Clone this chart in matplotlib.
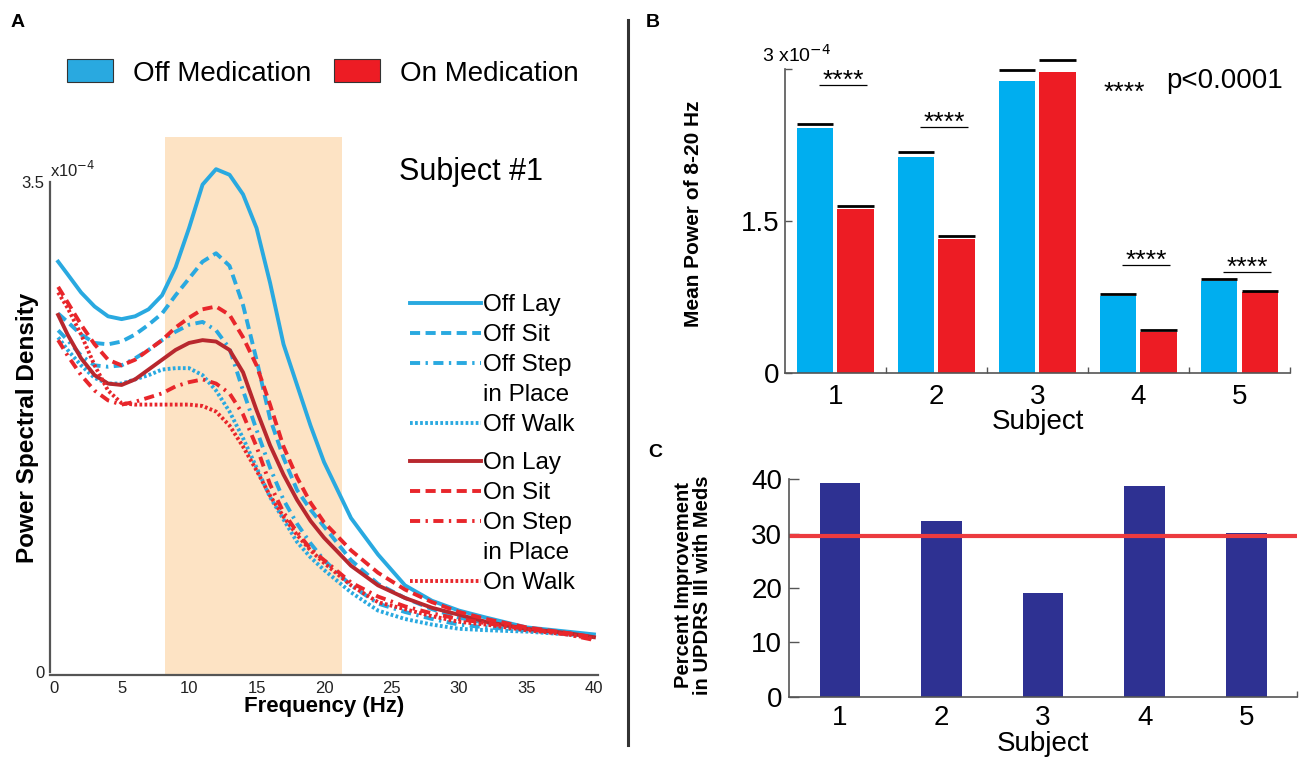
import matplotlib
matplotlib.use("Agg")
import matplotlib.pyplot as plt
from matplotlib.lines import Line2D
from matplotlib.patches import Patch

plt.rcParams['font.family'] = ['Liberation Sans', 'DejaVu Sans']

# ---- panel A: power spectral density, subject #1 (x1e-4) ----
freq = [0.3, 1, 2, 3, 4, 5, 6, 7, 8, 9, 10, 11, 12, 13, 14, 15, 16, 17, 18, 19, 20,
        22, 24, 26, 28, 30, 32, 35, 38, 40]
off_lay = [2.93, 2.84, 2.71, 2.61, 2.54, 2.52, 2.54, 2.59, 2.69, 2.89, 3.17, 3.48, 3.59, 3.55,
           3.41, 3.17, 2.78, 2.34, 2.05, 1.76, 1.50, 1.10, 0.84, 0.62, 0.51, 0.44, 0.39, 0.32,
           0.29, 0.27]
off_sit = [2.56, 2.50, 2.41, 2.35, 2.34, 2.36, 2.41, 2.48, 2.56, 2.69, 2.81, 2.93, 2.99, 2.90,
           2.62, 2.23, 1.81, 1.53, 1.30, 1.16, 1.04, 0.80, 0.63, 0.53, 0.45, 0.39, 0.35, 0.31,
           0.28, 0.26]
off_step = [2.44, 2.37, 2.26, 2.19, 2.18, 2.19, 2.24, 2.30, 2.37, 2.43, 2.48, 2.50, 2.44, 2.31,
            2.01, 1.73, 1.46, 1.23, 1.06, 0.92, 0.80, 0.62, 0.49, 0.43, 0.38, 0.34, 0.32, 0.30,
            0.28, 0.26]
off_walk = [2.39, 2.30, 2.19, 2.10, 2.06, 2.06, 2.09, 2.12, 2.16, 2.17, 2.17, 2.12, 2.01, 1.86,
            1.67, 1.46, 1.25, 1.09, 0.93, 0.82, 0.73, 0.57, 0.44, 0.38, 0.34, 0.31, 0.30, 0.29,
            0.27, 0.26]
on_lay = [2.55, 2.41, 2.24, 2.12, 2.06, 2.05, 2.09, 2.16, 2.23, 2.30, 2.35, 2.37, 2.36, 2.30,
          2.14, 1.87, 1.62, 1.41, 1.23, 1.08, 0.96, 0.76, 0.62, 0.53, 0.46, 0.41, 0.36, 0.31,
          0.28, 0.25]
on_sit = [2.75, 2.64, 2.48, 2.34, 2.23, 2.19, 2.23, 2.30, 2.37, 2.46, 2.53, 2.59, 2.61, 2.55,
          2.39, 2.19, 1.91, 1.61, 1.39, 1.21, 1.07, 0.87, 0.71, 0.59, 0.50, 0.43, 0.38, 0.32,
          0.28, 0.25]
on_step = [2.37, 2.26, 2.12, 2.01, 1.94, 1.91, 1.93, 1.96, 1.99, 2.04, 2.07, 2.09, 2.06, 1.99,
           1.84, 1.61, 1.34, 1.14, 1.00, 0.88, 0.80, 0.64, 0.54, 0.47, 0.42, 0.38, 0.35, 0.31,
           0.27, 0.23]
on_walk = [2.71, 2.60, 2.41, 2.19, 2.01, 1.92, 1.91, 1.91, 1.91, 1.91, 1.91, 1.90, 1.86, 1.76,
           1.61, 1.44, 1.26, 1.11, 0.98, 0.87, 0.78, 0.62, 0.50, 0.45, 0.40, 0.36, 0.34, 0.30,
           0.27, 0.24]
band = [8.2, 21.3]

# ---- panel B: mean power 8-20 Hz (x1e-4) ----
subjects = [1, 2, 3, 4, 5]
off_mean = [2.42, 2.13, 2.88, 0.76, 0.91]
on_mean = [1.62, 1.32, 2.97, 0.41, 0.80]
off_err = [0.04, 0.05, 0.11, 0.02, 0.02]
on_err = [0.03, 0.03, 0.12, 0.01, 0.01]
sig_level = [2.85, 2.43, None, 1.07, 1.00]

# ---- panel C: UPDRS III improvement ----
updrs = [39.3, 32.3, 19.1, 38.7, 30.1]
updrs_ref = 29.5

BLUE = '#29a9e0'
RED = '#e8262b'
DARKRED = '#b8282e'
BAR_BLUE = '#00aeef'
BAR_RED = '#ed1c24'
NAVY = '#2e3192'
AX = '#555555'

fig = plt.figure(figsize=(13, 7.6), dpi=100)

# ================= A =================
axA = fig.add_axes([0.0385, 0.1118, 0.4215, 0.708])
axA.axvspan(band[0], band[1], color='#fde3c4', lw=0, zorder=0)

dash = (0, (2.6, 1.4))
dashdot = (0, (2.6, 1.4, 0.6, 1.4))
dot = (0, (0.7, 0.6))
curves = [
    (off_lay, BLUE, '-', 'Off Lay'),
    (off_sit, BLUE, dash, 'Off Sit'),
    (off_step, BLUE, dashdot, 'Off Step'),
    (off_walk, BLUE, dot, 'Off Walk'),
    (on_lay, DARKRED, '-', 'On Lay'),
    (on_sit, RED, dash, 'On Sit'),
    (on_step, RED, dashdot, 'On Step'),
    (on_walk, RED, dot, 'On Walk'),
]
handles = []
for vals, col, ls, lab in curves:
    h, = axA.plot(freq, vals, color=col, ls=ls, lw=2.8, label=lab)
    handles.append(h)

axA.set_xlim(-0.3, 40.3)
axA.set_ylim(-0.02, 3.82)
axA.set_xticks(range(0, 41, 5))
axA.set_yticks([0, 3.5])
axA.set_yticklabels(['0', '3.5'])
axA.tick_params(length=0, labelsize=12, pad=4, colors='#222222')
for s in ['top', 'right']:
    axA.spines[s].set_visible(False)
for s in ['left', 'bottom']:
    axA.spines[s].set_color(AX)
    axA.spines[s].set_linewidth(1.6)
axA.spines['left'].set_bounds(0, 3.5)
axA.set_xlabel('Frequency (Hz)', fontsize=16, fontweight='bold', labelpad=0)
axA.set_ylabel('Power Spectral Density', fontsize=17.5, fontweight='bold')
axA.yaxis.set_label_coords(-0.02, 0.46)
axA.text(0.0, 0.939, 'x10$^{-4}$', transform=axA.transAxes, fontsize=12,
         ha='left', va='center', color='#222222')
axA.text(0.768, 0.935, 'Subject #1', transform=axA.transAxes, fontsize=22,
         ha='center', va='center')

blank = Line2D([], [], color='none')
off_h = [handles[0], handles[1], handles[2], blank, handles[3]]
off_l = ['Off Lay', 'Off Sit', 'Off Step', 'in Place', 'Off Walk']
on_h = [handles[4], handles[5], handles[6], blank, handles[7]]
on_l = ['On Lay', 'On Sit', 'On Step', 'in Place', 'On Walk']
leg_kw = dict(loc='upper left', bbox_transform=fig.transFigure, frameon=False,
              fontsize=17.5, handlelength=2.9, handletextpad=0.12, labelspacing=0.33,
              borderpad=0, borderaxespad=0)
legA1 = axA.legend(off_h, off_l, bbox_to_anchor=(0.3154, 0.613), **leg_kw)
axA.add_artist(legA1)
axA.legend(on_h, on_l, bbox_to_anchor=(0.3154, 0.405), **leg_kw)

med_h = [Patch(facecolor=BLUE, edgecolor='#333333', lw=0.8),
         Patch(facecolor=BAR_RED, edgecolor='#333333', lw=0.8)]
fig.legend(med_h, ['Off Medication', 'On Medication'], loc='center left',
           bbox_to_anchor=(0.0515, 0.904), ncol=2, frameon=False, fontsize=20,
           handlelength=1.65, handleheight=0.9, handletextpad=0.72, columnspacing=0.83,
           borderpad=0, borderaxespad=0)

# ================= B =================
axB = fig.add_axes([0.6038, 0.5092, 0.3885, 0.4395])
w = 0.36
xo = [s - 0.2 for s in subjects]
xn = [s + 0.2 for s in subjects]
axB.bar(xo, off_mean, width=w, color=BAR_BLUE, lw=0)
axB.bar(xn, on_mean, width=w, color=BAR_RED, lw=0)
axB.hlines([m + e for m, e in zip(off_mean, off_err)], [x - w / 2 for x in xo],
           [x + w / 2 for x in xo], color='black', lw=2)
axB.hlines([m + e for m, e in zip(on_mean, on_err)], [x - w / 2 for x in xn],
           [x + w / 2 for x in xn], color='black', lw=2)
# asterisks sit high in the em box, so they are placed by their baseline
for s, lvl in zip(subjects, sig_level):
    if lvl is None:
        continue
    axB.hlines(lvl, s - 0.16, s + 0.31, color='black', lw=0.9)
    axB.text(s + 0.075, lvl - 0.03, '****', ha='center', va='baseline', fontsize=19)
axB.text(3.86, 2.70, '****', ha='center', va='baseline', fontsize=19)
axB.text(4.27, 2.88, 'p<0.0001', ha='left', va='center', fontsize=20)

axB.set_xlim(0.5, 5.5)
axB.set_ylim(0, 3.3)
axB.set_yticks([0, 1.5, 3])
axB.set_yticklabels(['0', '1.5', ''])
axB.set_xticks(subjects)
axB.set_xticks([1.5, 2.5, 3.5, 4.5, 5.5], minor=True)
axB.tick_params(axis='x', which='major', length=0, pad=8, labelsize=20)
axB.tick_params(axis='x', which='minor', direction='in', length=4, width=1, color=AX)
axB.tick_params(axis='y', direction='in', length=5, width=1, color=AX, pad=4, labelsize=20)
for s in ['top', 'right']:
    axB.spines[s].set_visible(False)
for s in ['left', 'bottom']:
    axB.spines[s].set_color(AX)
    axB.spines[s].set_linewidth(1.2)
axB.spines['left'].set_bounds(0, 3)
axB.text(-0.0455, 0.952, '3 x10$^{-4}$', transform=axB.transAxes, ha='left',
         va='center', fontsize=14)
axB.set_xlabel('Subject', fontsize=20, labelpad=-1)
axB.set_ylabel('Mean Power of 8-20 Hz', fontsize=15, fontweight='bold')
axB.yaxis.set_label_coords(-0.162, 0.476)

# ================= C =================
axC = fig.add_axes([0.607, 0.0829, 0.3908, 0.294])
axC.bar(subjects, updrs, width=0.4, color=NAVY, lw=0)
axC.axhline(updrs_ref, color='#ec3b3f', lw=3)
axC.set_xlim(0.5, 5.5)
axC.set_ylim(0, 41)
axC.set_yticks([0, 10, 20, 30, 40])
axC.set_xticks(subjects)
axC.set_xticks([5.5], minor=True)
axC.tick_params(axis='x', which='major', length=0, pad=6, labelsize=20)
axC.tick_params(axis='x', which='minor', direction='in', length=4, width=1, color=AX)
axC.tick_params(axis='y', direction='in', length=7, width=1, color=AX, pad=5, labelsize=20)
for s in ['top', 'right']:
    axC.spines[s].set_visible(False)
for s in ['left', 'bottom']:
    axC.spines[s].set_color(AX)
    axC.spines[s].set_linewidth(1.2)
axC.spines['left'].set_bounds(0, 40)
axC.set_xlabel('Subject', fontsize=20, labelpad=0)
axC.set_ylabel('Percent Improvement\nin UPDRS III with Meds', fontsize=14.5,
               fontweight='bold', linespacing=1.0)
axC.yaxis.set_label_coords(-0.152, 0.5)

# panel letters and divider
fig.text(0.008, 0.971, 'A', fontsize=14, fontweight='bold', va='center')
fig.text(0.4965, 0.971, 'B', fontsize=14, fontweight='bold', va='center')
fig.text(0.4985, 0.405, 'C', fontsize=14, fontweight='bold', va='center')
fig.add_artist(Line2D([0.483, 0.483], [0.02, 0.974], color='#333333', lw=2.2))

fig.savefig('out.png', dpi=100)
